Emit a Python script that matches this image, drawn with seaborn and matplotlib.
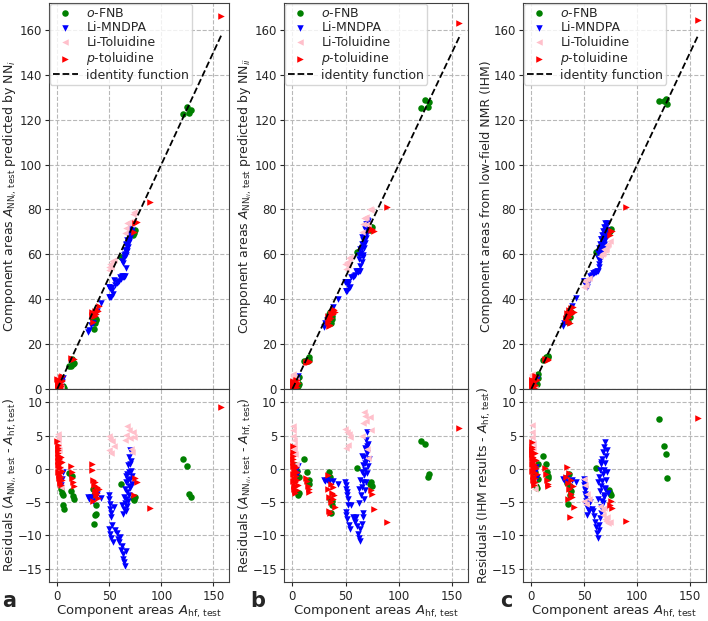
import numpy as np
import pandas as pd
import matplotlib
matplotlib.use("Agg")
import matplotlib.pyplot as plt
import seaborn as sns

# reference areas A_hf,test (x) and residuals of the three methods (a: NN_i, b: NN_ii, c: IHM)
fnb_x = [3.8, 4.5, 5.2, 5.8, 6.4,
         11.0, 13.5, 14.5, 15.3, 16.0,
         34.0, 35.0, 35.6, 36.2, 36.8, 37.5,
         61.0,
         73.0, 74.0, 75.0,
         121.0, 125.0, 127.0, 128.5]
fnb_res_a = [-3.0, -3.6, -4.0, -5.5, -6.0, -0.6, -3.4, -1.0, -4.1, -4.6, -3.0, -8.3,
             -4.0, -7.0, -5.5, -6.8, -2.2, -4.4, -4.7, -4.2, 1.5, 0.5, -3.8, -4.2]
fnb_res_b = [0.6, -0.3, -4.0, -3.6, -1.2, 1.5, -0.4, -2.0, -2.3, -1.6, -0.5, -4.6,
             -1.2, -6.6, -5.4, -4.8, 0.1, -2.3, -2.0, -2.6, 4.2, 3.8, -1.2, -0.7]
fnb_res_c = [-0.4, -2.6, -2.9, 0.8, -1.5, 2.0, 0.7, -0.5, -1.0, -1.3, -2.1, -5.3,
             -0.8, -4.0, -2.6, -3.4, 0.2, -3.2, -3.6, -3.9, 7.5, 3.4, 2.2, -1.4]

mndpa_x = [3.5, 4.5, 5.5,
           29.5, 31.0, 32.5, 34.0, 38.5, 42.5,
           49.5, 50.0, 50.5, 51.0, 51.5, 52.0, 52.5, 50.2, 50.8, 51.2, 53.5, 54.5,
           55.5, 57.0, 58.0, 59.0, 60.0, 61.0, 62.0, 63.0, 63.5, 64.0, 65.0, 66.0,
           62.5, 63.0, 64.0, 64.5, 65.0, 65.5, 66.0, 66.5, 67.0, 67.5, 68.0, 68.5,
           69.0, 69.5, 70.0, 70.5, 71.0, 71.5, 72.0, 66.2, 67.2, 68.2, 69.2, 70.2,
           65.8, 67.8, 68.8, 69.8]
mndpa_res_a = [-2.4, -1.5, -0.5,
               -4.3, -4.6, -4.2, -4.8, -3.8, -4.4,
               -4.0, -4.6, -5.3, -6.0, -6.6, -7.2, -8.4, -9.0, -9.8, -10.4, -11.0, -5.8,
               -9.2, -9.7, -10.5, -11.0, -10.2, -12.2, -11.6, -12.8, -13.5, -14.0, -14.6, -12.3,
               -5.5, -6.8, -4.2, -6.0, -3.1, -5.2, -2.0, -4.6, -0.8, -3.5, 0.6, -2.6,
               1.8, -1.5, 2.9, -0.3, 1.2, -2.2, -1.0, -6.4, -5.6, -4.8, -3.9, -2.9,
               -1.0, -1.7, -0.4, 0.8]
mndpa_res_b = [-0.2, -0.8, 0.4,
               -1.7, -1.8, -1.6, -2.0, -1.8, -2.3,
               -2.0, -2.5, -3.0, -3.5, -4.0, -4.5, -5.5, -6.5, -7.0, -7.5, -8.5, -9.0,
               -5.5, -7.2, -7.6, -8.0, -7.3, -8.6, -9.8, -10.4, -10.8, -9.1, -8.3, -7.2,
               -3.0, -5.2, -1.6, -4.0, -0.5, -2.8, 0.6, -2.0, 1.8, -0.9, 3.2, -0.2,
               4.4, 1.2, 5.5, 2.4, 3.8, 0.4, 1.5, -6.6, -4.5, -3.2, -2.0, -0.6,
               2.0, 0.9, 2.8, 3.5]
mndpa_res_c = [-0.5, 0.3, -1.2,
               -1.5, -1.6, -1.4, -1.9, -1.7, -2.0,
               -1.5, -2.5, -3.0, -3.2, -4.3, -5.5, -7.0, -2.0, -3.8, -4.8, -6.0, -6.4,
               -5.0, -6.0, -6.4, -7.1, -8.0, -8.7, -9.6, -10.4, -9.2, -8.5, -7.4, -6.6,
               -2.0, -4.5, -1.2, -3.4, -0.2, -2.6, 0.8, -1.8, 1.5, -0.8, 2.5, -0.1,
               3.3, 0.9, 4.1, 1.9, 2.8, -0.5, -3.6, -5.8, -4.8, -3.9, -2.9, -1.6,
               1.1, -5.2, -4.2, -3.0]

litol_x = [0.3, 0.6, 0.9, 1.2, 1.5, 1.9, 2.5, 3.2,
           49.5, 50.2, 51.0, 51.8, 53.0, 54.2,
           65.0, 66.5, 67.5, 68.5, 69.5, 70.5, 71.5, 72.5, 74.0]
litol_res_a = [5.2, 4.8, 4.3, 3.5, 2.8, 1.5, 0.0, -2.8,
               4.9, 2.8, 4.5, 2.4, 4.2, 3.5,
               4.4, 5.1, 6.5, 5.9, 4.7, 3.0, 2.6, 5.5, 4.8]
litol_res_b = [6.5, 5.8, 5.0, 4.3, 3.6, 3.0, 2.2, 0.8,
               6.0, 3.2, 5.6, 3.6, 5.2, 4.8,
               5.0, 6.9, 8.5, 7.9, 7.2, 3.0, 1.6, 7.8, 5.8]
litol_res_c = [6.6, 5.6, 4.8, 3.9, 3.2, -1.8, -2.4, -3.0,
               -1.5, -4.8, -2.5, -5.3, -3.8, -4.6,
               -5.6, -6.2, -7.0, -5.9, -7.5, -7.9, -7.2, -8.1, -8.0]

ptol_x = [0.2, 0.3, 0.4, 0.5, 0.6, 0.8, 0.9, 1.0, 1.2, 1.3, 1.5, 1.6, 1.8, 2.0, 2.2,
          2.4, 2.6, 2.8, 3.0, 3.3, 3.6, 3.9, 4.2, 4.6, 5.0,
          13.2, 14.0, 14.6, 15.3, 16.0,
          33.0, 33.5, 34.2, 34.8, 35.3, 36.0, 36.6, 37.2, 37.8, 38.5, 39.2, 40.0,
          74.0, 75.2, 76.4, 89.0, 157.0]
ptol_res_a = [4.2, 3.6, 2.9, 1.8, 0.6, 3.1, -0.4, 2.4, 1.2, -0.9, 2.0, 0.1, -1.4, 1.5, -0.6,
              -1.8, 0.9, -2.1, 0.3, -1.2, 1.8, -2.4, -0.3, 1.0, -1.6,
              0.4, -0.5, -1.3, -2.0, -2.6,
              -0.2, 0.8, -1.6, -4.8, -2.4, -3.3, -1.9, -4.0, -2.8, -3.6, -4.4, -3.1,
              -4.0, -1.3, -2.0, -5.9, 9.3]
ptol_res_b = [3.4, 2.6, 1.5, 0.4, -0.8, 2.0, -1.8, 1.0, -0.2, -2.6, 0.6, -1.3, -3.0, 0.2, -2.0,
              -3.4, -0.6, -3.7, -1.1, -2.6, 0.3, -3.2, -1.6, -0.5, -2.4,
              -1.3, -1.8, -2.6, -3.1, -3.5,
              -3.0, -0.9, -6.3, -4.2, -6.7, -2.2, -5.0, -3.6, -4.6, -2.8, -3.9, -5.7,
              -3.2, -3.8, -6.0, -8.0, 6.2]
ptol_res_c = [4.0, 3.3, 2.6, 1.7, 0.7, 3.0, -0.3, 2.2, 1.3, -1.0, 1.8, 0.2, -1.6, 1.2, -0.5,
              -2.0, 0.8, -2.4, 0.4, -1.3, 2.4, -1.9, 0.1, 1.4, -0.8,
              0.2, -0.8, -1.6, -2.2, -2.6,
              -1.2, 0.3, -2.1, -4.6, -3.0, -0.6, -7.2, -3.8, -1.7, -4.2, -2.6, -5.8,
              -5.4, -4.8, -5.9, -7.8, 7.6]

components = [
    ("$o$-FNB", fnb_x, fnb_res_a, fnb_res_b, fnb_res_c, "green", "o"),
    ("Li-MNDPA", mndpa_x, mndpa_res_a, mndpa_res_b, mndpa_res_c, "blue", "v"),
    ("Li-Toluidine", litol_x, litol_res_a, litol_res_b, litol_res_c, "pink", "<"),
    ("$p$-toluidine", ptol_x, ptol_res_a, ptol_res_b, ptol_res_c, "red", ">"),
]

frames = []
for name, xs, ra, rb, rc, _, _ in components:
    frames.append(pd.DataFrame({"component": name, "x": xs, "a": ra, "b": rb, "c": rc}))
df = pd.concat(frames, ignore_index=True)
for col in ["a", "b", "c"]:
    df["pred_" + col] = df["x"] + df[col]

panels = [
    ("a", r"Component areas $A_{\mathrm{NN}_{i},\,\mathrm{test}}$ predicted by NN$_{i}$",
     r"Residuals ($A_{\mathrm{NN}_{i},\,\mathrm{test}}$ - $A_{\mathrm{hf,\,test}}$)", 0.0692, 0.2542),
    ("b", r"Component areas $A_{\mathrm{NN}_{ii},\,\mathrm{test}}$ predicted by NN$_{ii}$",
     r"Residuals ($A_{\mathrm{NN}_{ii},\,\mathrm{test}}$ - $A_{\mathrm{hf,\,test}}$)", 0.4011, 0.2599),
    ("c", "Component areas from low-field NMR (IHM)",
     r"Residuals (IHM results - $A_{\mathrm{hf,\,test}}$)", 0.7387, 0.2585),
]

sns.set_style("ticks")
plt.rcParams.update({
    "font.family": ["DejaVu Sans"],
    "font.size": 9,
    "xtick.labelsize": 8.5,
    "ytick.labelsize": 8.5,
    "xtick.major.size": 3,
    "ytick.major.size": 3,
    "xtick.major.pad": 2.5,
    "ytick.major.pad": 2,
    "axes.edgecolor": "0.25",
    "mathtext.default": "it",
})

fig = plt.figure(figsize=(7.08, 6.21), dpi=100)
ident = np.array([0, df["x"].max() + 1])

for letter, top_lab, bot_lab, left, width in panels:
    ax_top = fig.add_axes([left, 0.3736, width, 0.6216])
    ax_bot = fig.add_axes([left, 0.0628, width, 0.3108], sharex=ax_top)

    for name, _, _, _, _, color, marker in components:
        sub = df[df["component"] == name]
        sns.scatterplot(x=sub["x"], y=sub["pred_" + letter], ax=ax_top, color=color,
                        marker=marker, s=22, linewidth=0, label=name)
        sns.scatterplot(x=sub["x"], y=sub[letter], ax=ax_bot, color=color,
                        marker=marker, s=22, linewidth=0, legend=False)
    ax_top.plot(ident, ident, "k--", lw=1.3, label="identity function")

    ax_top.legend(loc="upper left", fontsize=9, borderaxespad=0.05, labelspacing=0.12,
                  borderpad=0.25, handletextpad=0.7, handlelength=2.0, framealpha=0.8)

    ax_top.set_xlim(-7.9, 165)
    ax_top.set_ylim(0, 172)
    ax_top.set_yticks(np.arange(0, 161, 20))
    ax_bot.set_ylim(-17, 12)
    ax_bot.set_yticks(np.arange(-15, 11, 5))
    ax_bot.set_xticks([0, 50, 100, 150])
    ax_top.tick_params(labelbottom=False)

    for ax in (ax_top, ax_bot):
        ax.grid(True, linestyle="--", color="#b8b8b8", linewidth=0.8)
        ax.set_axisbelow(True)

    # y labels sit about 30 px left of the spine
    lab_x = -30 / (width * 708)
    ax_top.set_xlabel("")
    ax_top.set_ylabel(top_lab, fontsize=9)
    ax_bot.set_ylabel(bot_lab, fontsize=9)
    ax_top.yaxis.set_label_coords(lab_x, 0.5)
    ax_bot.yaxis.set_label_coords(lab_x, 0.5)
    ax_bot.set_xlabel(r"Component areas $A_{\mathrm{hf,\,test}}$", fontsize=9.5, labelpad=1)

fig.text(0.003, 0.022, "a", fontsize=15, fontweight="bold")
fig.text(0.354, 0.022, "b", fontsize=15, fontweight="bold")
fig.text(0.707, 0.022, "c", fontsize=15, fontweight="bold")

fig.savefig("out.png", dpi=100)
